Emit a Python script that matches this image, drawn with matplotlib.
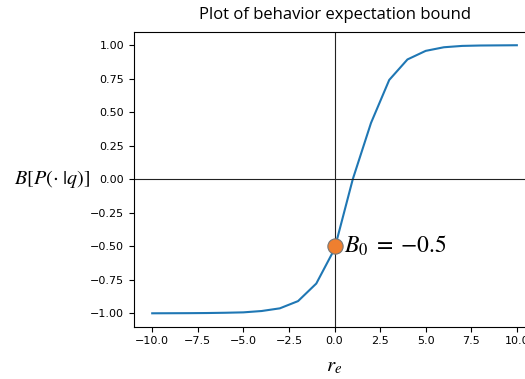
import matplotlib
matplotlib.use("Agg")
import matplotlib.pyplot as plt

plt.rcParams["mathtext.fontset"] = "stix"

# behaviour expectation bound sampled at integer r_e
r_e = [-10, -9, -8, -7, -6, -5, -4, -3, -2, -1, 0,
       1, 2, 3, 4, 5, 6, 7, 8, 9, 10]
bound = [-1.0, -0.9995, -0.999, -0.998, -0.996, -0.993, -0.983, -0.963, -0.909, -0.778, -0.52,
         0.0, 0.42, 0.741, 0.894, 0.958, 0.985, 0.995, 0.998, 0.999, 1.0]

# highlighted point at r_e = 0
b0_x = 0
b0_value = -0.5

fig = plt.figure(figsize=(5.25, 3.79), dpi=100)
ax = fig.add_axes([0.2552, 0.138, 0.764, 0.778])

ax.plot(r_e, bound, color="#1f77b4", lw=1.5)
ax.axhline(0, color="#222222", lw=0.8)
ax.axvline(0, color="#222222", lw=0.8)

ax.plot([b0_x], [b0_value], "o", color="#ef7f2f", markeredgecolor="#777777",
        markeredgewidth=0.8, markersize=11, zorder=5)
ax.text(b0_x + 0.5, b0_value, rf"$B_0\;=\;{{{b0_value}}}$".replace("-", "{-}"),
        fontsize=17, va="center", ha="left")

ax.set_xlim(-11, 11)
ax.set_ylim(-1.1, 1.1)
ax.set_xticks([-10, -7.5, -5, -2.5, 0, 2.5, 5, 7.5, 10])
ax.set_yticks([-1.0, -0.75, -0.5, -0.25, 0.0, 0.25, 0.5, 0.75, 1.0])
ax.tick_params(labelsize=8)

ax.set_title("Plot of behavior expectation bound", fontfamily="Open Sans",
             fontsize=12, pad=9)
ax.set_xlabel("$r_e$", fontsize=15, labelpad=7)
ax.set_ylabel(r"$B[P(\cdot\ |q)]$", fontsize=14.5, rotation=0, labelpad=27,
              va="center")

fig.savefig("out.png", dpi=100)
